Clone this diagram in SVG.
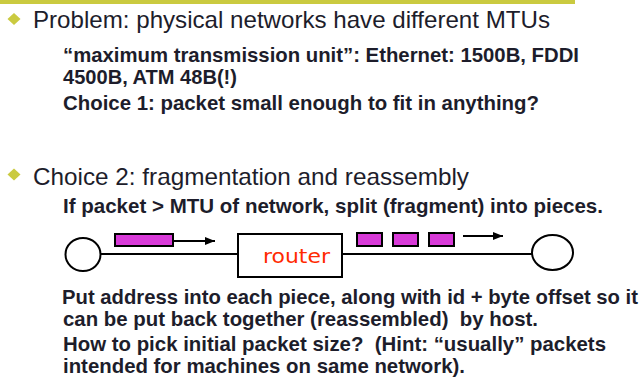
<svg xmlns="http://www.w3.org/2000/svg" width="644" height="386" viewBox="0 0 644 386">
<defs>
<style>
.h{font-family:"Liberation Sans",Arial,sans-serif;font-size:24px;fill:#1d1d2b}
.b{font-family:"Liberation Sans",Arial,sans-serif;font-size:20.5px;font-weight:bold;fill:#1d1d2b;white-space:pre}
.bul{fill:#caca40}
.ln{stroke:#000;stroke-width:2;fill:none}
.pk{fill:#d83ad8;stroke:#000;stroke-width:2}
.host{fill:#fff;stroke:#000;stroke-width:2}
</style>
<marker id="ah" viewBox="0 0 10 8" refX="10" refY="4" markerWidth="10" markerHeight="8" markerUnits="userSpaceOnUse" orient="auto">
<path d="M0,0 L10,4 L0,8 Z" fill="#000"/>
</marker>
</defs>
<rect x="0" y="0" width="575" height="4" fill="#caca40"/>
<g id="text">
<path class="bul" d="M14,13 L20.5,19 L14,25 L7.5,19 Z"/>
<text class="h" x="33" y="28" textLength="517" lengthAdjust="spacingAndGlyphs">Problem: physical networks have different MTUs</text>
<text class="b" x="63" y="62" textLength="516" lengthAdjust="spacingAndGlyphs">“maximum transmission unit”: Ethernet: 1500B, FDDI</text>
<text class="b" x="63" y="84" textLength="174" lengthAdjust="spacingAndGlyphs">4500B, ATM 48B(!)</text>
<text class="b" x="63" y="110" textLength="476" lengthAdjust="spacingAndGlyphs">Choice 1: packet small enough to fit in anything?</text>
<path class="bul" d="M14,168.5 L20.5,174.5 L14,180.5 L7.5,174.5 Z"/>
<text class="h" x="33" y="185" textLength="436" lengthAdjust="spacingAndGlyphs">Choice 2: fragmentation and reassembly</text>
<text class="b" x="63" y="213" textLength="540" lengthAdjust="spacingAndGlyphs">If packet &gt; MTU of network, split (fragment) into pieces.</text>
<text class="b" x="62" y="304" textLength="576" lengthAdjust="spacingAndGlyphs">Put address into each piece, along with id + byte offset so it</text>
<text class="b" x="63" y="326" textLength="475" lengthAdjust="spacingAndGlyphs">can be put back together (reassembled)  by host.</text>
<text class="b" x="63" y="351" textLength="543" lengthAdjust="spacingAndGlyphs">How to pick initial packet size?  (Hint: “usually” packets</text>
<text class="b" x="63" y="373" textLength="402" lengthAdjust="spacingAndGlyphs">intended for machines on same network).</text>
</g>
<g id="connectors">
<line class="ln" x1="100" y1="254" x2="532" y2="254"/>
<line class="ln" x1="174" y1="241" x2="215" y2="241" marker-end="url(#ah)"/>
<line class="ln" x1="463" y1="236" x2="503" y2="236" marker-end="url(#ah)"/>
</g>
<g id="host-left"><ellipse class="host" cx="83" cy="254.5" rx="17.5" ry="16.5"/></g>
<g id="host-right"><ellipse class="host" cx="552.5" cy="252.5" rx="20.5" ry="17.5"/></g>
<g id="router">
<rect x="238" y="234" width="104" height="43" fill="#fff" stroke="#000" stroke-width="2"/>
<text x="263" y="263" font-family="'DejaVu Sans',sans-serif" font-size="20" fill="#ff2a00" textLength="67" lengthAdjust="spacingAndGlyphs">router</text>
</g>
<g id="packet-big"><rect class="pk" x="115" y="234" width="58" height="12"/></g>
<g id="fragments">
<rect class="pk" x="357" y="233" width="25" height="13"/>
<rect class="pk" x="393" y="233" width="25" height="13"/>
<rect class="pk" x="429" y="233" width="25" height="13"/>
</g>
</svg>
